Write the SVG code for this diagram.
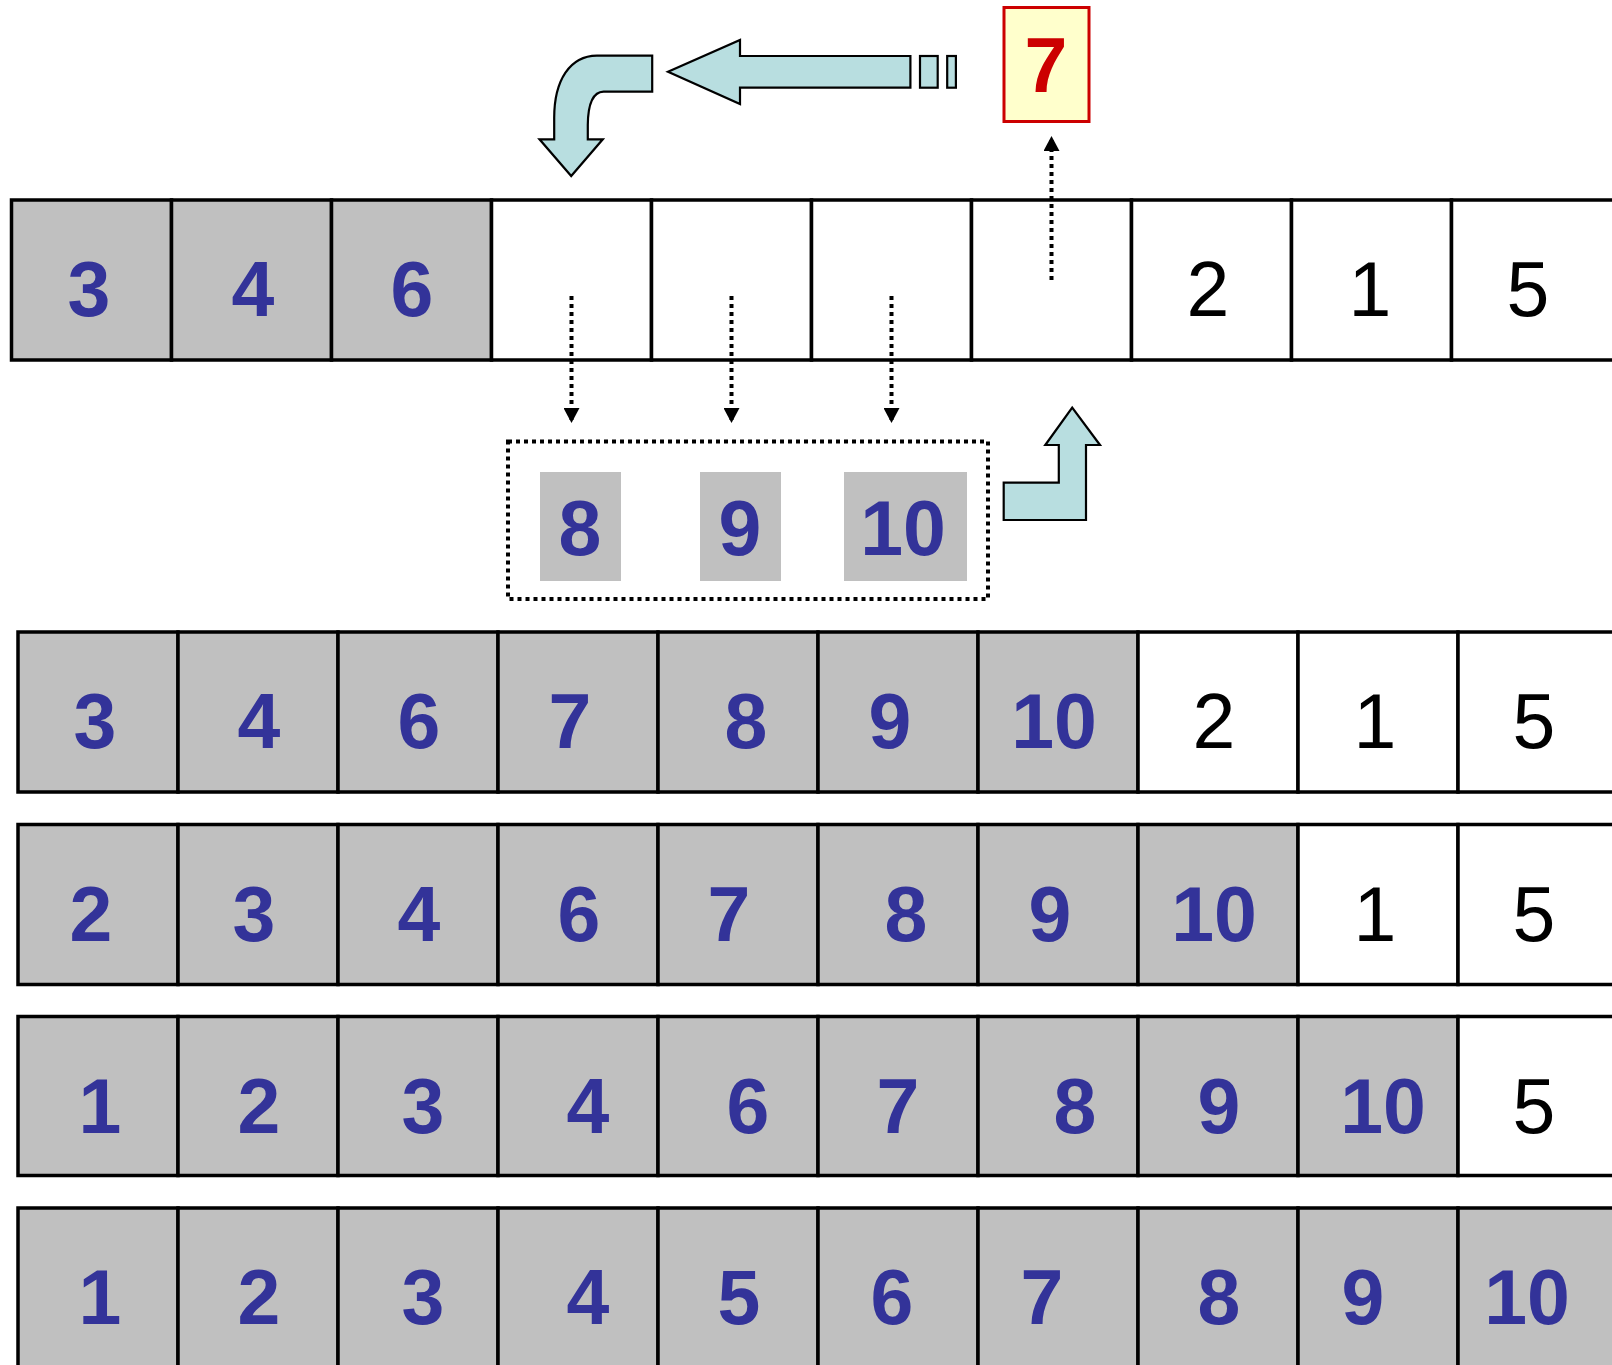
<svg xmlns="http://www.w3.org/2000/svg" width="1612" height="1365" viewBox="0 0 1612 1365">
<style>
.g{fill:#C0C0C0;stroke:#000;stroke-width:3.5}
.w{fill:#FFFFFF;stroke:#000;stroke-width:3.5}
.tb{font-family:"Liberation Sans",Arial,sans-serif;font-weight:bold;font-size:77px;fill:#333399;text-anchor:middle}
.tn{font-family:"Liberation Sans",Arial,sans-serif;font-size:77px;fill:#000;text-anchor:middle}
.dot{fill:none;stroke:#000;stroke-width:4;stroke-dasharray:4 4}
.blk{fill:#B8DEE0;stroke:#000;stroke-width:2.2;stroke-linejoin:miter}
.sub{fill:#C0C0C0}
</style>
<defs>
<marker id="ah" viewBox="0 0 15 16" refX="15" refY="8" markerWidth="15" markerHeight="16" markerUnits="userSpaceOnUse" orient="auto">
<path d="M0,0 L15,8 L0,16 z" fill="#000"/>
</marker>
</defs>
<rect width="1612" height="1365" fill="#fff"/>

<!-- Row 1 -->
<g id="row1">
<g id="r1c1"><rect class="g" x="11.5" y="200" width="160" height="160"/><text class="tb" x="89" y="316">3</text></g>
<g id="r1c2"><rect class="g" x="171.5" y="200" width="160" height="160"/><text class="tb" x="253" y="316">4</text></g>
<g id="r1c3"><rect class="g" x="331.5" y="200" width="160" height="160"/><text class="tb" x="412" y="316">6</text></g>
<g id="r1c4"><rect class="w" x="491.5" y="200" width="160" height="160"/></g>
<g id="r1c5"><rect class="w" x="651.5" y="200" width="160" height="160"/></g>
<g id="r1c6"><rect class="w" x="811.5" y="200" width="160" height="160"/></g>
<g id="r1c7"><rect class="w" x="971.5" y="200" width="160" height="160"/></g>
<g id="r1c8"><rect class="w" x="1131.5" y="200" width="160" height="160"/><text class="tn" x="1208" y="316">2</text></g>
<g id="r1c9"><rect class="w" x="1291.5" y="200" width="160" height="160"/><text class="tn" x="1370" y="316">1</text></g>
<g id="r1c10"><rect class="w" x="1451.5" y="200" width="170" height="160"/><text class="tn" x="1528" y="316">5</text></g>
</g>

<!-- Key 7 -->
<g id="key7"><rect x="1004" y="7.5" width="85" height="114" fill="#FFFFCC" stroke="#CC0000" stroke-width="3"/><text class="tb" x="1046" y="92" style="fill:#CC0000">7</text></g>

<!-- Temp box -->
<g id="temp">
<rect x="508" y="441.5" width="480" height="157.5" class="dot"/>
<g id="t8"><rect class="sub" x="540" y="472" width="81" height="109"/><text class="tb" x="580" y="555">8</text></g>
<g id="t9"><rect class="sub" x="700" y="472" width="81" height="109"/><text class="tb" x="740" y="555">9</text></g>
<g id="t10"><rect class="sub" x="844" y="472" width="123" height="109"/><text class="tb" x="903" y="555">10</text></g>
</g>

<!-- Row 2 -->
<g id="row2">
<g id="r2c1"><rect class="g" x="18" y="632" width="160" height="160"/><text class="tb" x="95" y="748">3</text></g>
<g id="r2c2"><rect class="g" x="178" y="632" width="160" height="160"/><text class="tb" x="259" y="748">4</text></g>
<g id="r2c3"><rect class="g" x="338" y="632" width="160" height="160"/><text class="tb" x="419" y="748">6</text></g>
<g id="r2c4"><rect class="g" x="498" y="632" width="160" height="160"/><text class="tb" x="570" y="748">7</text></g>
<g id="r2c5"><rect class="g" x="658" y="632" width="160" height="160"/><text class="tb" x="746" y="748">8</text></g>
<g id="r2c6"><rect class="g" x="818" y="632" width="160" height="160"/><text class="tb" x="890" y="748">9</text></g>
<g id="r2c7"><rect class="g" x="978" y="632" width="160" height="160"/><text class="tb" x="1054" y="748">10</text></g>
<g id="r2c8"><rect class="w" x="1138" y="632" width="160" height="160"/><text class="tn" x="1214" y="748">2</text></g>
<g id="r2c9"><rect class="w" x="1298" y="632" width="160" height="160"/><text class="tn" x="1375" y="748">1</text></g>
<g id="r2c10"><rect class="w" x="1458" y="632" width="170" height="160"/><text class="tn" x="1534" y="748">5</text></g>
</g>

<!-- Row 3 -->
<g id="row3">
<g id="r3c1"><rect class="g" x="18" y="824.5" width="160" height="160"/><text class="tb" x="91" y="940.5">2</text></g>
<g id="r3c2"><rect class="g" x="178" y="824.5" width="160" height="160"/><text class="tb" x="254" y="940.5">3</text></g>
<g id="r3c3"><rect class="g" x="338" y="824.5" width="160" height="160"/><text class="tb" x="419" y="940.5">4</text></g>
<g id="r3c4"><rect class="g" x="498" y="824.5" width="160" height="160"/><text class="tb" x="579" y="940.5">6</text></g>
<g id="r3c5"><rect class="g" x="658" y="824.5" width="160" height="160"/><text class="tb" x="729" y="940.5">7</text></g>
<g id="r3c6"><rect class="g" x="818" y="824.5" width="160" height="160"/><text class="tb" x="906" y="940.5">8</text></g>
<g id="r3c7"><rect class="g" x="978" y="824.5" width="160" height="160"/><text class="tb" x="1050" y="940.5">9</text></g>
<g id="r3c8"><rect class="g" x="1138" y="824.5" width="160" height="160"/><text class="tb" x="1214" y="940.5">10</text></g>
<g id="r3c9"><rect class="w" x="1298" y="824.5" width="160" height="160"/><text class="tn" x="1375" y="940.5">1</text></g>
<g id="r3c10"><rect class="w" x="1458" y="824.5" width="170" height="160"/><text class="tn" x="1534" y="940.5">5</text></g>
</g>

<!-- Row 4 -->
<g id="row4">
<g id="r4c1"><rect class="g" x="18" y="1016.5" width="160" height="159"/><text class="tb" x="100" y="1132.5">1</text></g>
<g id="r4c2"><rect class="g" x="178" y="1016.5" width="160" height="159"/><text class="tb" x="259" y="1132.5">2</text></g>
<g id="r4c3"><rect class="g" x="338" y="1016.5" width="160" height="159"/><text class="tb" x="423" y="1132.5">3</text></g>
<g id="r4c4"><rect class="g" x="498" y="1016.5" width="160" height="159"/><text class="tb" x="588" y="1132.5">4</text></g>
<g id="r4c5"><rect class="g" x="658" y="1016.5" width="160" height="159"/><text class="tb" x="748" y="1132.5">6</text></g>
<g id="r4c6"><rect class="g" x="818" y="1016.5" width="160" height="159"/><text class="tb" x="898" y="1132.5">7</text></g>
<g id="r4c7"><rect class="g" x="978" y="1016.5" width="160" height="159"/><text class="tb" x="1075" y="1132.5">8</text></g>
<g id="r4c8"><rect class="g" x="1138" y="1016.5" width="160" height="159"/><text class="tb" x="1219" y="1132.5">9</text></g>
<g id="r4c9"><rect class="g" x="1298" y="1016.5" width="160" height="159"/><text class="tb" x="1383" y="1132.5">10</text></g>
<g id="r4c10"><rect class="w" x="1458" y="1016.5" width="170" height="159"/><text class="tn" x="1534" y="1132.5">5</text></g>
</g>

<!-- Row 5 -->
<g id="row5">
<g id="r5c1"><rect class="g" x="18" y="1208" width="160" height="170"/><text class="tb" x="100" y="1324">1</text></g>
<g id="r5c2"><rect class="g" x="178" y="1208" width="160" height="170"/><text class="tb" x="259" y="1324">2</text></g>
<g id="r5c3"><rect class="g" x="338" y="1208" width="160" height="170"/><text class="tb" x="423" y="1324">3</text></g>
<g id="r5c4"><rect class="g" x="498" y="1208" width="160" height="170"/><text class="tb" x="588" y="1324">4</text></g>
<g id="r5c5"><rect class="g" x="658" y="1208" width="160" height="170"/><text class="tb" x="739" y="1324">5</text></g>
<g id="r5c6"><rect class="g" x="818" y="1208" width="160" height="170"/><text class="tb" x="892" y="1324">6</text></g>
<g id="r5c7"><rect class="g" x="978" y="1208" width="160" height="170"/><text class="tb" x="1042" y="1324">7</text></g>
<g id="r5c8"><rect class="g" x="1138" y="1208" width="160" height="170"/><text class="tb" x="1219" y="1324">8</text></g>
<g id="r5c9"><rect class="g" x="1298" y="1208" width="160" height="170"/><text class="tb" x="1363" y="1324">9</text></g>
<g id="r5c10"><rect class="g" x="1458" y="1208" width="170" height="170"/><text class="tb" x="1527" y="1324">10</text></g>
</g>

<!-- Connectors -->
<g id="connectors">
<line class="dot" x1="571.5" y1="296" x2="571.5" y2="423" marker-end="url(#ah)"/>
<line class="dot" x1="731.5" y1="296" x2="731.5" y2="423" marker-end="url(#ah)"/>
<line class="dot" x1="891.5" y1="296" x2="891.5" y2="423" marker-end="url(#ah)"/>
<line class="dot" x1="1051.5" y1="280" x2="1051.5" y2="136" marker-end="url(#ah)"/>
<path class="blk" d="M668,71.7 L740,40 L740,56 L910.4,56 L910.4,87.7 L740,87.7 L740,104 Z"/>
<rect class="blk" x="920" y="56" width="17.7" height="31.7"/>
<rect class="blk" x="947.2" y="56" width="8.7" height="31.7"/>
<path class="blk" d="M652.2,55.7 L652.2,91.7 L603.6,91.7 C593,92 588,105 587.8,125 L587.8,139.3 L602.8,139.3 L571.2,176 L539.5,139.3 L554.2,139.3 L554.2,118 C554.2,80 570,56 596.9,55.7 Z"/>
<path class="blk" d="M1003.7,520 L1003.7,482.7 L1058.8,482.7 L1058.8,445 L1045.3,445 L1072.2,407.7 L1100,445 L1086,445 L1086,520 Z"/>
</g>
</svg>
